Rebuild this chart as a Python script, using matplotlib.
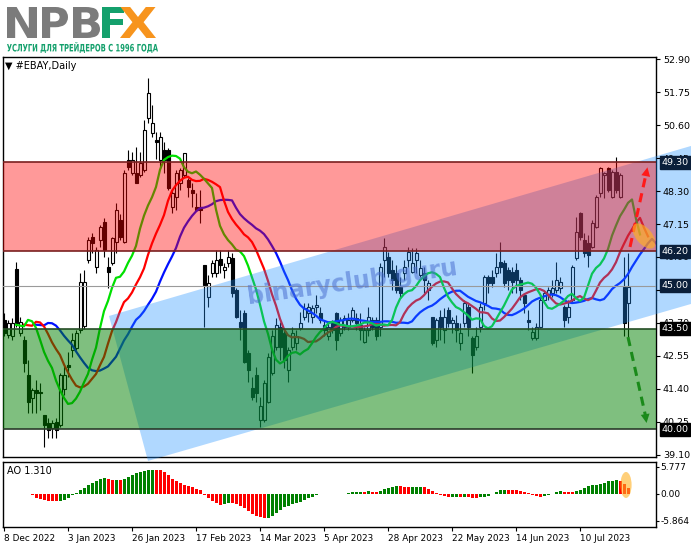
import numpy as np
import pandas as pd
import matplotlib
matplotlib.use('Agg')
import matplotlib.pyplot as plt
from matplotlib.patches import Polygon, Ellipse, PathPatch
from matplotlib.textpath import TextPath
from matplotlib.font_manager import FontProperties
from matplotlib.transforms import Affine2D, IdentityTransform

# daily candles #EBAY, 8 Dec 2022 .. 27 Jul 2023
opens = [43.80, 43.28, 43.23, 45.57, 43.34, 43.11, 41.89, 41.08, 41.37, 41.30,
         40.50, 40.21, 40.03, 40.26, 40.15, 41.40, 42.25, 42.76, 42.82, 43.46,
         43.60, 45.90, 46.71, 45.66, 46.59, 47.23, 45.66, 45.78, 46.54, 47.29,
         46.54, 49.38, 48.92, 48.92, 48.86, 49.03, 50.83, 50.31, 50.08, 49.38,
         49.73, 49.73, 47.75, 48.10, 48.57, 48.86, 48.68, 48.34, 47.75, 47.75,
         45.72, 44.62, 45.43, 45.43, 45.92, 45.55, 45.78, 45.95, 44.85, 43.75,
         44.04, 42.64, 41.42, 41.89, 40.32, 40.32, 40.96, 41.95, 42.88, 43.57,
         43.34, 42.06, 42.88, 42.99, 43.52, 43.92, 44.04, 43.92, 44.27, 44.04,
         43.63, 43.23, 43.69, 44.04, 43.34, 43.57, 43.57, 43.81, 43.86, 43.63,
         43.05, 43.46, 43.81, 43.81, 43.57, 45.90, 46.01, 45.55, 45.43, 44.97,
         45.43, 45.90, 45.49, 45.90, 45.37, 45.43, 44.85, 43.92, 43.11, 43.92,
         43.46, 44.15, 43.69, 43.69, 42.99, 43.69, 44.27, 43.17, 42.88, 43.57,
         44.39, 45.32, 45.32, 45.43, 45.84, 45.78, 45.55, 45.49, 45.55, 45.20,
         44.68, 43.81, 43.17, 43.17, 43.57, 44.50, 44.68, 44.74, 44.85, 44.91,
         44.27, 43.92, 44.50, 45.95, 47.52, 46.59, 46.48, 46.36, 47.06, 48.22,
         48.86, 49.09, 48.10, 48.97, 48.10, 44.97, 44.39]
highs = [44.05, 43.81, 43.86, 45.84, 43.92, 43.23, 42.41, 41.42, 41.72, 41.60,
         40.50, 40.38, 40.32, 40.38, 41.95, 42.20, 42.70, 43.34, 43.46, 45.43,
         45.55, 46.71, 46.83, 46.36, 47.12, 47.35, 46.01, 46.71, 47.87, 47.50,
         49.03, 49.73, 49.67, 49.85, 49.67, 50.77, 52.23, 51.30, 50.37, 50.37,
         50.02, 49.79, 48.34, 49.03, 49.09, 49.64, 48.74, 48.57, 48.22, 48.34,
         45.72, 45.37, 45.90, 46.25, 46.25, 45.78, 46.25, 46.13, 44.91, 44.15,
         44.15, 42.76, 41.83, 42.18, 41.13, 41.72, 42.64, 43.46, 43.86, 43.75,
         43.46, 42.88, 43.57, 43.46, 44.10, 44.39, 44.39, 44.33, 44.68, 44.27,
         43.81, 43.69, 43.81, 44.10, 43.92, 43.98, 44.04, 44.27, 44.04, 44.04,
         43.57, 44.27, 43.92, 43.92, 45.78, 46.65, 46.19, 45.90, 45.72, 45.32,
         45.90, 46.36, 46.30, 46.30, 45.90, 45.66, 45.20, 43.92, 43.86, 44.15,
         44.21, 44.27, 43.92, 43.98, 43.69, 44.50, 44.39, 43.23, 43.57, 44.39,
         45.37, 45.37, 45.55, 46.13, 46.54, 45.90, 45.66, 45.66, 45.78, 45.32,
         44.74, 44.15, 43.57, 43.69, 44.62, 44.80, 44.97, 45.20, 45.84, 45.32,
         44.33, 44.50, 45.72, 47.41, 47.58, 46.83, 46.77, 47.29, 48.16, 49.15,
         48.97, 49.15, 49.03, 49.50, 48.92, 46.01, 46.13]
lows = [43.23, 43.17, 43.10, 43.57, 43.23, 42.00, 40.55, 40.55, 40.55, 40.67,
        39.39, 39.68, 39.68, 39.70, 40.09, 41.20, 41.83, 42.53, 42.76, 43.34,
        43.50, 45.78, 46.13, 45.43, 46.36, 46.01, 44.91, 45.72, 46.13, 46.60,
        46.48, 49.03, 48.86, 48.57, 48.80, 48.97, 50.66, 50.19, 49.40, 49.09,
        48.92, 48.34, 47.52, 47.64, 48.34, 48.80, 48.10, 47.75, 47.64, 47.17,
        43.57, 44.27, 45.32, 45.32, 45.43, 45.26, 45.66, 44.62, 43.86, 43.11,
        42.30, 41.66, 41.02, 40.96, 40.09, 40.26, 40.90, 41.89, 42.76, 42.41,
        42.12, 41.66, 42.76, 42.76, 43.46, 43.81, 43.75, 43.69, 44.04, 43.69,
        43.23, 43.11, 43.34, 42.76, 43.23, 43.46, 43.46, 43.75, 43.46, 43.11,
        42.99, 43.23, 43.46, 43.11, 43.23, 45.32, 45.32, 44.85, 44.74, 44.62,
        45.20, 45.66, 45.43, 45.43, 45.32, 44.74, 44.50, 42.94, 42.88, 43.11,
        42.99, 43.57, 43.34, 43.05, 42.76, 43.57, 43.23, 41.95, 42.76, 43.40,
        44.15, 44.74, 44.97, 45.32, 45.43, 44.97, 44.85, 44.74, 44.74, 44.50,
        44.04, 43.46, 43.11, 43.11, 43.52, 44.39, 44.50, 44.62, 44.74, 44.74,
        43.57, 43.69, 44.39, 45.90, 46.59, 46.01, 45.66, 46.30, 47.00, 48.10,
        48.04, 48.28, 48.04, 48.22, 48.04, 43.23, 43.11]
closes = [43.34, 43.69, 43.69, 43.69, 43.75, 42.30, 40.96, 41.37, 41.25, 41.26,
          40.15, 39.97, 40.21, 39.97, 41.89, 41.90, 42.15, 43.11, 43.34, 45.14,
          45.14, 46.59, 46.48, 46.25, 47.06, 46.25, 45.49, 46.65, 47.64, 46.71,
          48.92, 49.15, 49.38, 48.57, 49.26, 50.43, 51.70, 50.66, 50.00, 50.19,
          49.38, 48.39, 48.22, 48.92, 49.03, 49.61, 48.45, 48.22, 47.64, 47.64,
          45.03, 45.08, 45.78, 45.90, 45.72, 45.66, 46.01, 44.74, 43.92, 43.57,
          42.35, 42.06, 41.13, 41.25, 40.79, 41.60, 42.53, 43.23, 43.63, 42.88,
          42.41, 42.76, 43.34, 43.23, 43.69, 44.21, 44.27, 44.21, 44.33, 43.81,
          43.46, 43.57, 43.46, 43.11, 43.81, 43.86, 43.81, 44.15, 43.69, 43.46,
          43.46, 43.92, 43.57, 43.23, 45.66, 46.36, 45.43, 45.20, 44.85, 44.74,
          45.66, 46.19, 45.78, 46.13, 45.61, 45.20, 45.08, 42.99, 43.81, 43.57,
          43.92, 43.69, 43.81, 43.46, 43.34, 44.39, 43.57, 42.59, 43.23, 44.27,
          45.32, 45.08, 45.08, 45.66, 45.66, 45.08, 45.20, 45.14, 45.20, 44.85,
          44.39, 43.75, 43.40, 43.57, 44.50, 44.74, 44.85, 44.91, 45.20, 45.14,
          43.81, 44.27, 45.66, 46.88, 46.71, 46.13, 46.07, 47.17, 48.10, 49.09,
          48.92, 48.34, 48.97, 48.34, 48.86, 43.69, 44.97]

date_labels = ['8 Dec 2022', '3 Jan 2023', '26 Jan 2023', '17 Feb 2023', '14 Mar 2023',
               '5 Apr 2023', '28 Apr 2023', '22 May 2023', '14 Jun 2023', '10 Jul 2023']
date_pos = [0, 16, 32, 48, 64, 80, 96, 112, 128, 144]

price_ticks = [52.90, 51.75, 50.60, 49.45, 48.30, 47.15, 46.00, 44.85, 43.70, 42.55, 41.40, 40.25, 39.10]
levels = [49.30, 46.20, 45.00, 43.50, 40.00]
level_bg = ['#0b1f3a', '#0b1f3a', '#0b1f3a', 'black', 'black']
ao_ticks = [5.777, 0.0, -5.864]

o = np.array(opens); h = np.array(highs); l = np.array(lows); c = np.array(closes)
x = np.arange(len(o))

W, H = 691, 549
fig = plt.figure(figsize=(W / 100, H / 100), dpi=100)
fig.patch.set_facecolor('white')

def fx(px):
    return px / W

def fy(py):
    return 1 - py / H

ax = fig.add_axes([fx(3), fy(457), fx(656) - fx(3), fy(57) - fy(457)])
ao_ax = fig.add_axes([fx(3), fy(527), fx(656) - fx(3), fy(462) - fy(527)])

# candles
up = c >= o
lo = np.minimum(o, c)
bh = np.maximum(np.abs(c - o), 0.03)
ax.vlines(x, l, h, color='black', lw=0.8, zorder=2)
ax.bar(x[up], bh[up], bottom=lo[up], width=0.75, color='white', edgecolor='black', lw=0.8, zorder=3)
ax.bar(x[~up], bh[~up], bottom=lo[~up], width=0.75, color='black', edgecolor='black', lw=0.8, zorder=3)

# alligator (smoothed median price, shifted forward)
med = pd.Series((h + l) / 2)
jaw = med.ewm(alpha=1 / 13, adjust=False).mean()
teeth = med.ewm(alpha=1 / 8, adjust=False).mean()
lips = med.ewm(alpha=1 / 5, adjust=False).mean()
ax.plot(x + 8, jaw, color='#0010ff', lw=1.6, zorder=3.5)
ax.plot(x + 5, teeth, color='#ff0000', lw=1.6, zorder=3.5)
ax.plot(x + 3, lips, color='#00e000', lw=1.6, zorder=3.5)

# channel + zones
chan = [(26.25, 43.945), (36.0, 38.893), (171.75, 44.363), (171.75, 49.87)]
ax.add_patch(Polygon(chan, closed=True, fc='#1e90ff', alpha=0.35, lw=0, zorder=4, clip_on=False))
ax.axhspan(46.2, 49.3, color='red', alpha=0.4, lw=0, zorder=5)
ax.axhspan(40.0, 43.5, color='green', alpha=0.5, lw=0, zorder=5)
ax.axhline(49.3, color='#7a2020', lw=1.2, zorder=6)
ax.axhline(46.2, color='#7a2020', lw=1.2, zorder=6)
ax.axhline(43.5, color='#254d25', lw=1.2, zorder=6)
ax.axhline(40.0, color='#2a3a2a', lw=1.2, zorder=6)
ax.axhline(45.0, color='#9a9a9a', lw=0.8, zorder=6)

ax.text(87, 45.1, 'binaryclub.guru', rotation=8, fontsize=17, fontweight='bold',
        color='#4a6fd0', alpha=0.55, ha='center', va='center', zorder=7)

# forecast arrows
ax.plot([156.5, 160.6], [46.35, 48.95], color='#ff1a1a', lw=2.2, ls=(0, (3, 2)), zorder=8)
ax.annotate('', xy=(161, 49.22), xytext=(160.4, 48.8),
            arrowprops=dict(arrowstyle='-|>', color='#ff1a1a', lw=0, mutation_scale=16), zorder=8)
ax.plot([156, 160.4], [43.21, 40.45], color='#1a8a1a', lw=2.2, ls=(0, (3, 2)), zorder=8)
ax.annotate('', xy=(160.75, 40.12), xytext=(160.2, 40.6),
            arrowprops=dict(arrowstyle='-|>', color='#1a8a1a', lw=0, mutation_scale=16), zorder=8)

ax.set_xlim(-0.25, 163)
ax.set_ylim(39.03, 52.97)
ax.yaxis.tick_right()
ax.set_yticks(price_ticks)
ax.set_yticklabels([f'{v:.2f}' for v in price_ticks])
ax.tick_params(axis='y', length=3, pad=2, labelsize=6.8, colors='black')
ax.set_xticks([])
ax.yaxis.set_zorder(20)
for s in ax.spines.values():
    s.set_color('black')
    s.set_linewidth(1)

for v, bg in zip(levels, level_bg):
    ax.text(1.0085, v, f'{v:.2f}', transform=ax.get_yaxis_transform(), color='white', fontsize=6.8,
            va='center', ha='left', bbox=dict(boxstyle='square,pad=0.2', fc=bg, ec=bg),
            zorder=30, clip_on=False)

ax.text(0.003, 0.978, '\u25BC #EBAY,Daily', transform=ax.transAxes, fontsize=7, va='center', ha='left')

# awesome oscillator
ao = med.rolling(5, min_periods=1).mean() - med.rolling(34, min_periods=1).mean()
ao_col = np.where(ao.diff().fillna(0) > 0, '#008000', '#ff0000')
ao_ax.bar(x, ao, width=0.75, color=ao_col, zorder=2)
ao_ax.add_patch(Ellipse((155.5, 1.9), 2.8, 5.6, fc='#ffb020', alpha=0.6, lw=0, zorder=3))
ao_ax.set_xlim(-0.25, 163)
ao_ax.set_ylim(-7.16, 6.85)
ao_ax.yaxis.tick_right()
ao_ax.set_yticks(ao_ticks)
ao_ax.set_yticklabels(['5.777', '0.00', '-5.864'])
ao_ax.tick_params(axis='y', length=2, pad=1, labelsize=6.5)
ao_ax.set_xticks(date_pos)
ao_ax.set_xticklabels(date_labels, ha='left')
ao_ax.tick_params(axis='x', length=3, pad=2, labelsize=6.4)
ao_ax.text(0.006, 0.86, 'AO 1.310', transform=ao_ax.transAxes, fontsize=7, va='center', ha='left')
for s in ao_ax.spines.values():
    s.set_color('black')
    s.set_linewidth(1)

# highlight near last bars
fig.add_artist(Ellipse((644, H - 236), 30, 16, angle=-50, fc='#ffb020', alpha=0.65, lw=0,
                       transform=IdentityTransform()))

# logo
def logo_text(s, x0, ybot, w, hgt, color):
    tp = TextPath((0, 0), s, size=1, prop=FontProperties(family='DejaVu Sans', weight='bold'))
    bb = tp.get_extents()
    tr = Affine2D().translate(-bb.x0, -bb.y0).scale(w / bb.width, hgt / bb.height).translate(x0, H - ybot)
    fig.add_artist(PathPatch(tp, transform=tr, fc=color, ec='none'))

logo_text('N', 7, 38, 30, 31, '#7b7b7b')
logo_text('P', 42, 38, 26, 31, '#7b7b7b')
logo_text('B', 73, 38, 27, 31, '#7b7b7b')
logo_text('F', 102, 38, 22, 31, '#14a06c')
logo_text('X', 120, 38, 36, 31, '#f7941d')
logo_text('УСЛУГИ ДЛЯ ТРЕЙДЕРОВ С 1996 ГОДА', 7, 53, 151, 11, '#14a06c')

fig.savefig('out.png', dpi=100)
